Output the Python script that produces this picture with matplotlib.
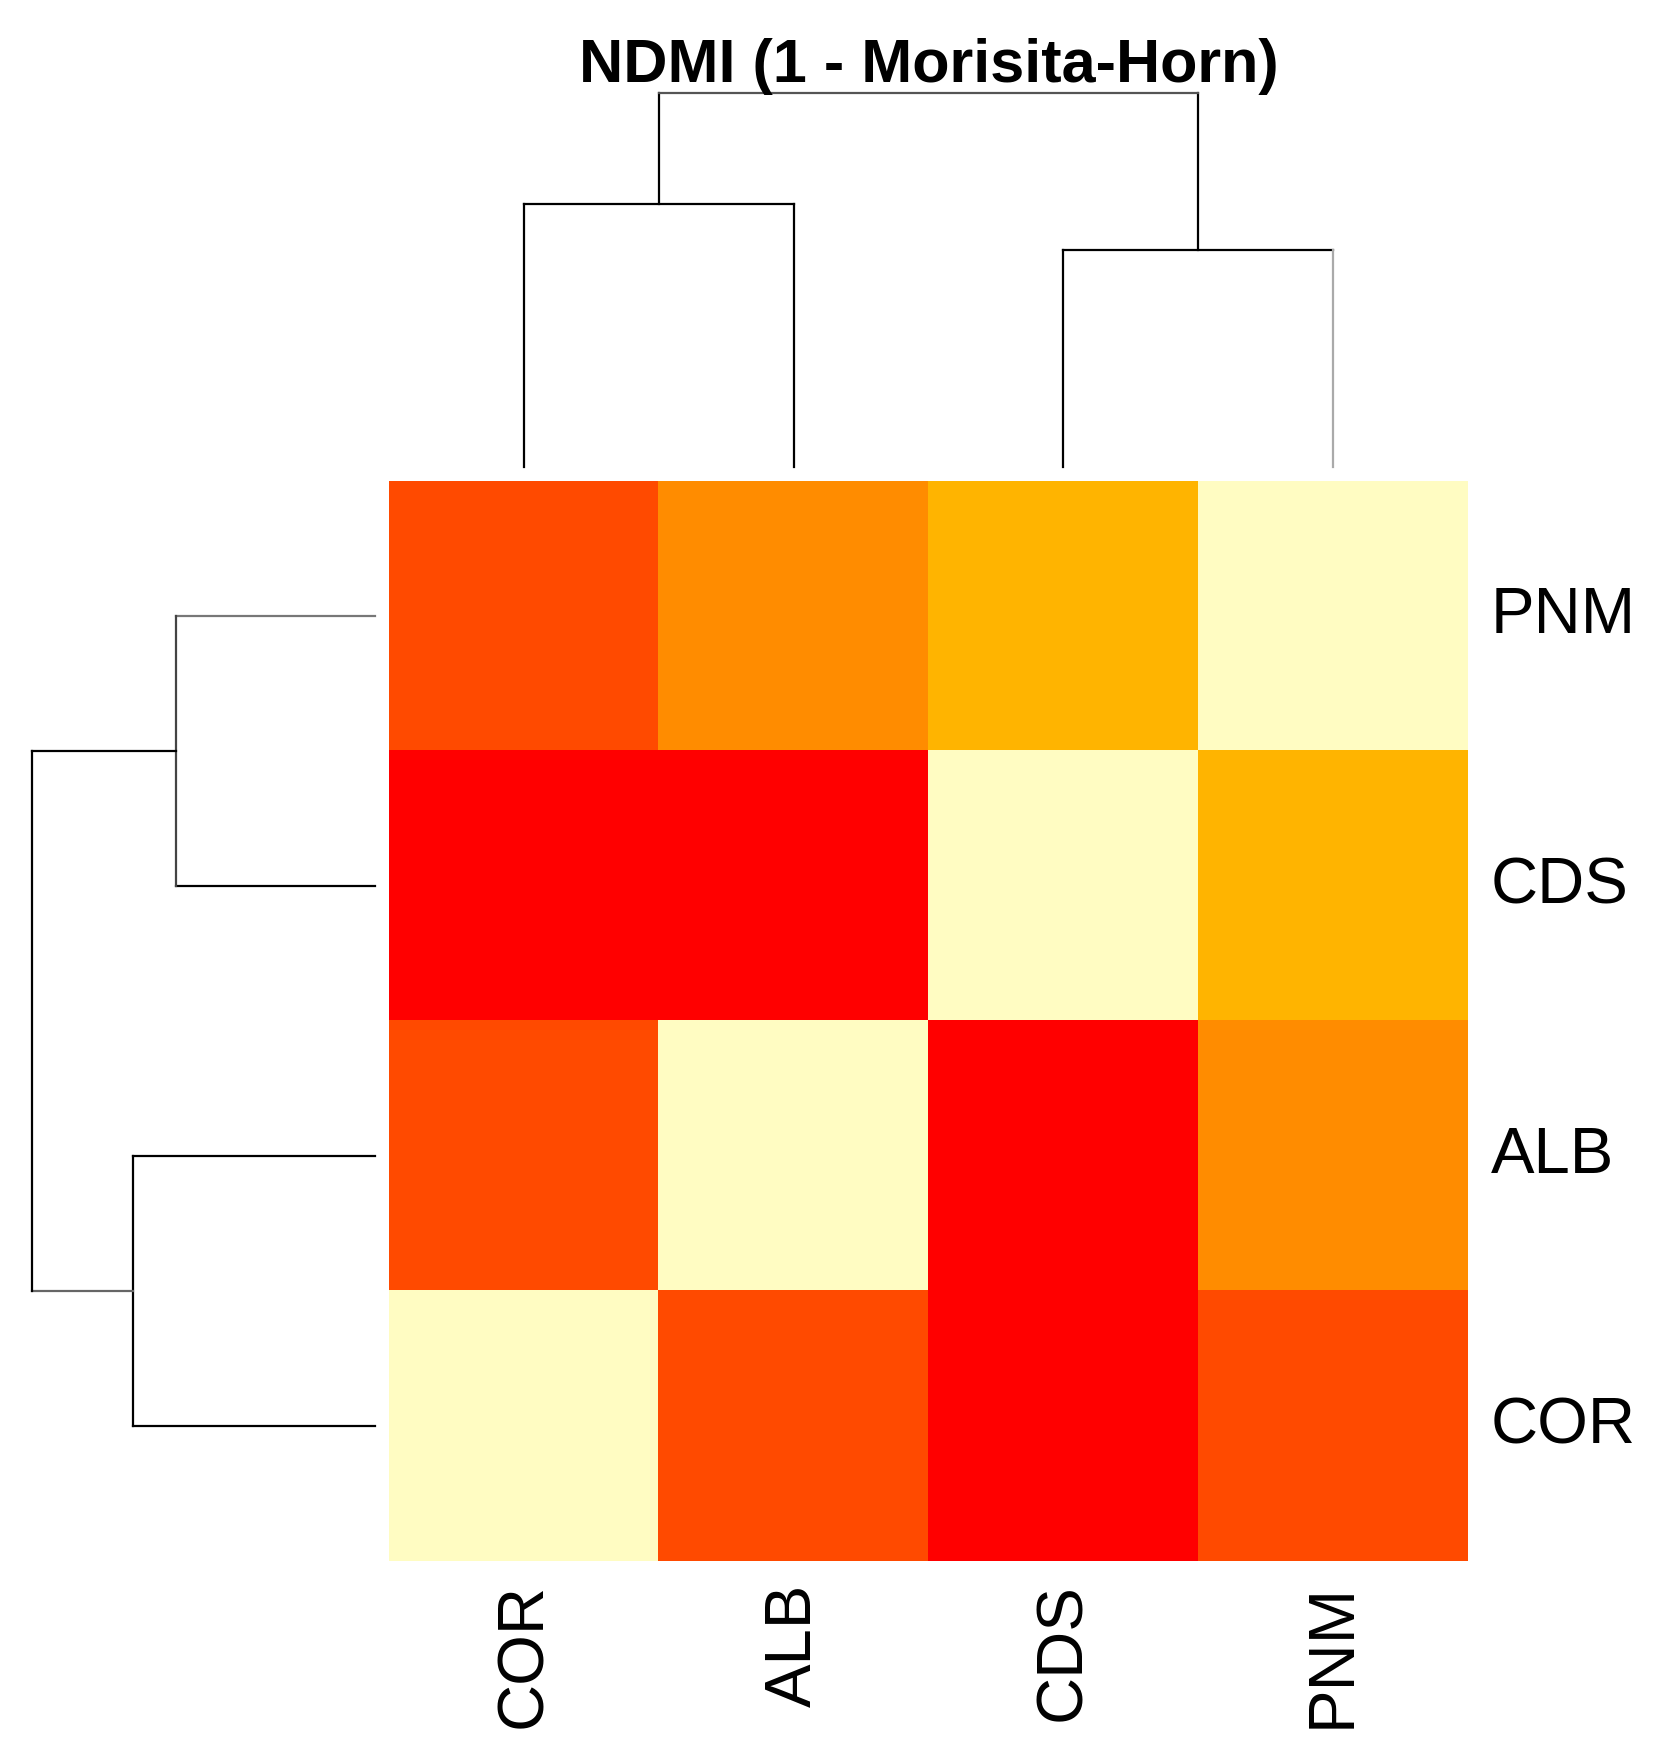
import matplotlib
matplotlib.use("Agg")
import matplotlib.pyplot as plt
from matplotlib.colors import ListedColormap, BoundaryNorm
import numpy as np

# ---------------- data ----------------
labels = ["COR", "ALB", "CDS", "PNM"]
col_order = ["COR", "ALB", "CDS", "PNM"]
row_order = ["PNM", "CDS", "ALB", "COR"]
# similarity matrix (order = labels)
sim = [
    [1.00, 0.30, 0.05, 0.30],
    [0.30, 1.00, 0.05, 0.50],
    [0.05, 0.05, 1.00, 0.70],
    [0.30, 0.50, 0.70, 1.00],
]
merge_pairs = [("COR", "ALB"), ("CDS", "PNM")]
merge_heights = [0.62, 0.51]
root_height = 0.88
level_bounds = [0.0, 0.2, 0.4, 0.6, 0.85, 1.01]
level_colors = ["#FF0000", "#FF4A00", "#FF8C00", "#FFB400", "#FFFCC2"]
title = "NDMI (1 - Morisita-Horn)"

# ---------------- figure ----------------
W, H = 1656, 1762
fig = plt.figure(figsize=(W / 100, H / 100), dpi=100)
fig.patch.set_facecolor("white")
plt.rcParams["font.family"] = ["Liberation Sans", "DejaVu Sans"]


def px_axes(left, top, right, bottom):
    return fig.add_axes([left / W, 1 - bottom / H, (right - left) / W, (bottom - top) / H])


idx = {l: i for i, l in enumerate(labels)}
S = np.array(sim)
M = np.array([[S[idx[r], idx[c]] for c in col_order] for r in row_order])

cmap = ListedColormap(level_colors)
norm = BoundaryNorm(level_bounds, cmap.N)

ax = px_axes(389, 481, 1468, 1561)
ax.imshow(M, cmap=cmap, norm=norm, extent=(0, 4, 4, 0), aspect="auto",
          interpolation="nearest")
ax.set_xlim(0, 4)
ax.set_ylim(4, 0)
for s in ax.spines.values():
    s.set_visible(False)
ax.set_xticks(np.arange(len(col_order)) + 0.5)
ax.set_xticklabels(col_order, rotation=90, fontsize=47)
ax.yaxis.tick_right()
ax.set_yticks(np.arange(len(row_order)) + 0.5)
ax.set_yticklabels(row_order, fontsize=47, va="center")
ax.tick_params(axis="x", length=0, pad=16)
ax.tick_params(axis="y", length=0, pad=16.5)

lw = 1.6
kw = dict(color="black", lw=lw, clip_on=False, solid_capstyle="projecting")

# column dendrogram
axc = px_axes(389, 93, 1468, 467)
axc.set_xlim(0, 4)
axc.set_ylim(0, root_height)
axc.axis("off")
cpos = {l: i + 0.5 for i, l in enumerate(col_order)}
centers = []
for (a, b), h in zip(merge_pairs, merge_heights):
    xa, xb = cpos[a], cpos[b]
    axc.plot([xa, xa], [0, h], **kw)
    axc.plot([xa, xb], [h, h], **kw)
    cb = dict(kw)
    if b == "PNM":
        cb["color"] = "#aaaaaa"
    axc.plot([xb, xb], [0, h], **cb)
    centers.append(((xa + xb) / 2, h))
for cx, h in centers:
    axc.plot([cx, cx], [h, root_height], **kw)
rk = dict(kw)
rk["color"] = "#555555"
axc.plot([centers[0][0], centers[1][0]], [root_height, root_height], **rk)

# row dendrogram
axr = px_axes(32, 481, 375, 1561)
axr.set_ylim(4, 0)
axr.set_xlim(root_height, 0)
axr.axis("off")
rpos = {l: i + 0.5 for i, l in enumerate(row_order)}
rcenters = []
for (a, b), h in zip(merge_pairs, merge_heights):
    ya, yb = rpos[a], rpos[b]
    ka = dict(kw)
    kb = dict(kw)
    kv = dict(kw)
    if a == "CDS" or b == "PNM":
        kb["color"] = "#777777"
        kv["color"] = "#444444"
    axr.plot([0, h], [ya, ya], **ka)
    axr.plot([0, h], [yb, yb], **kb)
    axr.plot([h, h], [ya, yb], **kv)
    rcenters.append(((ya + yb) / 2, h))
for cy, h in rcenters:
    kk = dict(kw)
    if cy > 2:
        kk["color"] = "#666666"
    axr.plot([h, root_height], [cy, cy], **kk)
axr.plot([root_height, root_height], [rcenters[0][0], rcenters[1][0]], **kw)

fig.text(929 / W, 1 - 82 / H, title, ha="center", va="baseline",
         fontsize=44, fontweight="bold")

fig.savefig("out.png", dpi=100, facecolor="white")
